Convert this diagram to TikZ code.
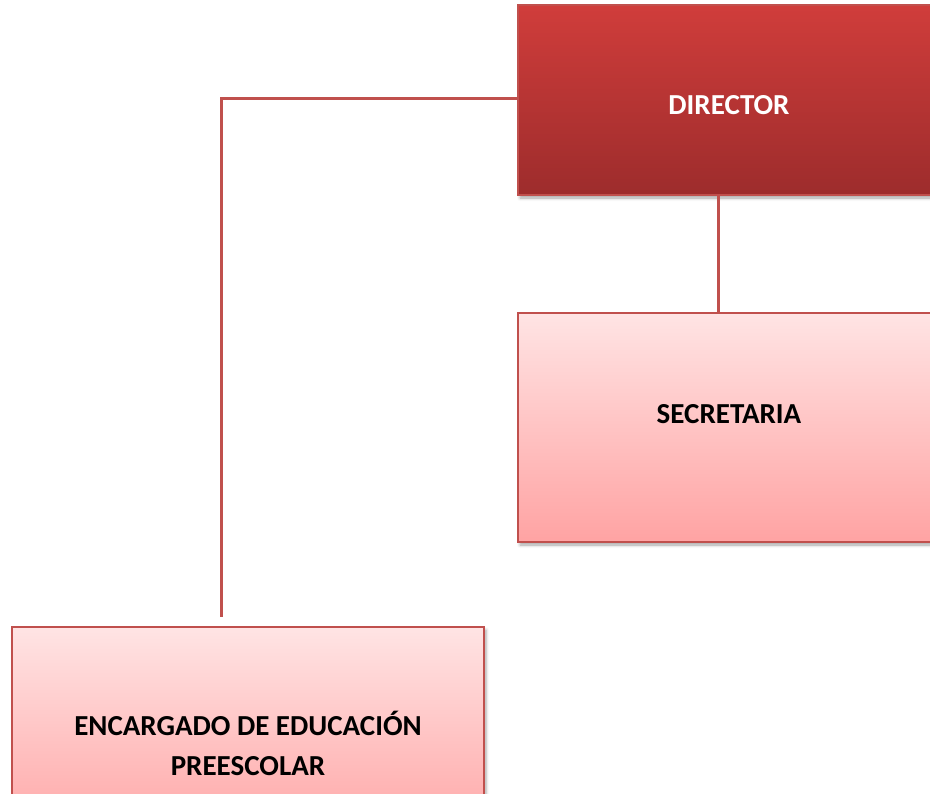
\documentclass[tikz,border=0pt]{standalone}
\usepackage{fontspec}
\setmainfont{Carlito}
\usetikzlibrary{shadows.blur}
\definecolor{edge}{RGB}{192,80,77}
\definecolor{dirtop}{RGB}{208,61,59}
\definecolor{dirbot}{RGB}{157,44,44}
\definecolor{pinktop}{RGB}{255,228,228}
\definecolor{pinkbot}{RGB}{255,163,163}
\tikzset{
  box/.style={draw=edge, line width=2.6pt, rectangle, inner sep=0pt,
    blur shadow={shadow xshift=2pt, shadow yshift=-3pt, shadow blur radius=3pt, shadow opacity=35}},
  redbox/.style={box, top color=dirtop, bottom color=dirbot},
  pinkbox/.style={box, top color=pinktop, bottom color=pinkbot},
  lbl/.style={font=\bfseries\fontsize{29}{40}\selectfont, align=center, anchor=base, inner sep=0pt},
  conn/.style={draw=edge, line width=3pt}
}
\begin{document}
\begin{tikzpicture}[x=1pt,y=-1pt]
\useasboundingbox (0,0) rectangle (930,794);
\clip (0,0) rectangle (930,794);
\node[redbox, minimum width=422pt, minimum height=190pt] (dir) at (729,100) {};
\node[pinkbox, minimum width=422pt, minimum height=229pt] (sec) at (729,427.5) {};
\node[pinkbox, minimum width=472pt, minimum height=220pt] (enc) at (248,737) {};
\node[lbl, text=white] (dirt) at (729,115) {DIRECTOR};
\node[lbl] (sect) at (729,424) {SECRETARIA};
\node[lbl] (enct) at (248,775) {ENCARGADO DE EDUCACIÓN\\PREESCOLAR};
\coordinate (bend) at (221,99);
\coordinate (encend) at (221,617);
\coordinate (vx) at (718,0);
\draw[conn] (dir.west |- bend) -- (bend) -- (encend);
\draw[conn] (dir.south -| vx) -- (sec.north -| vx);
\end{tikzpicture}
\end{document}
